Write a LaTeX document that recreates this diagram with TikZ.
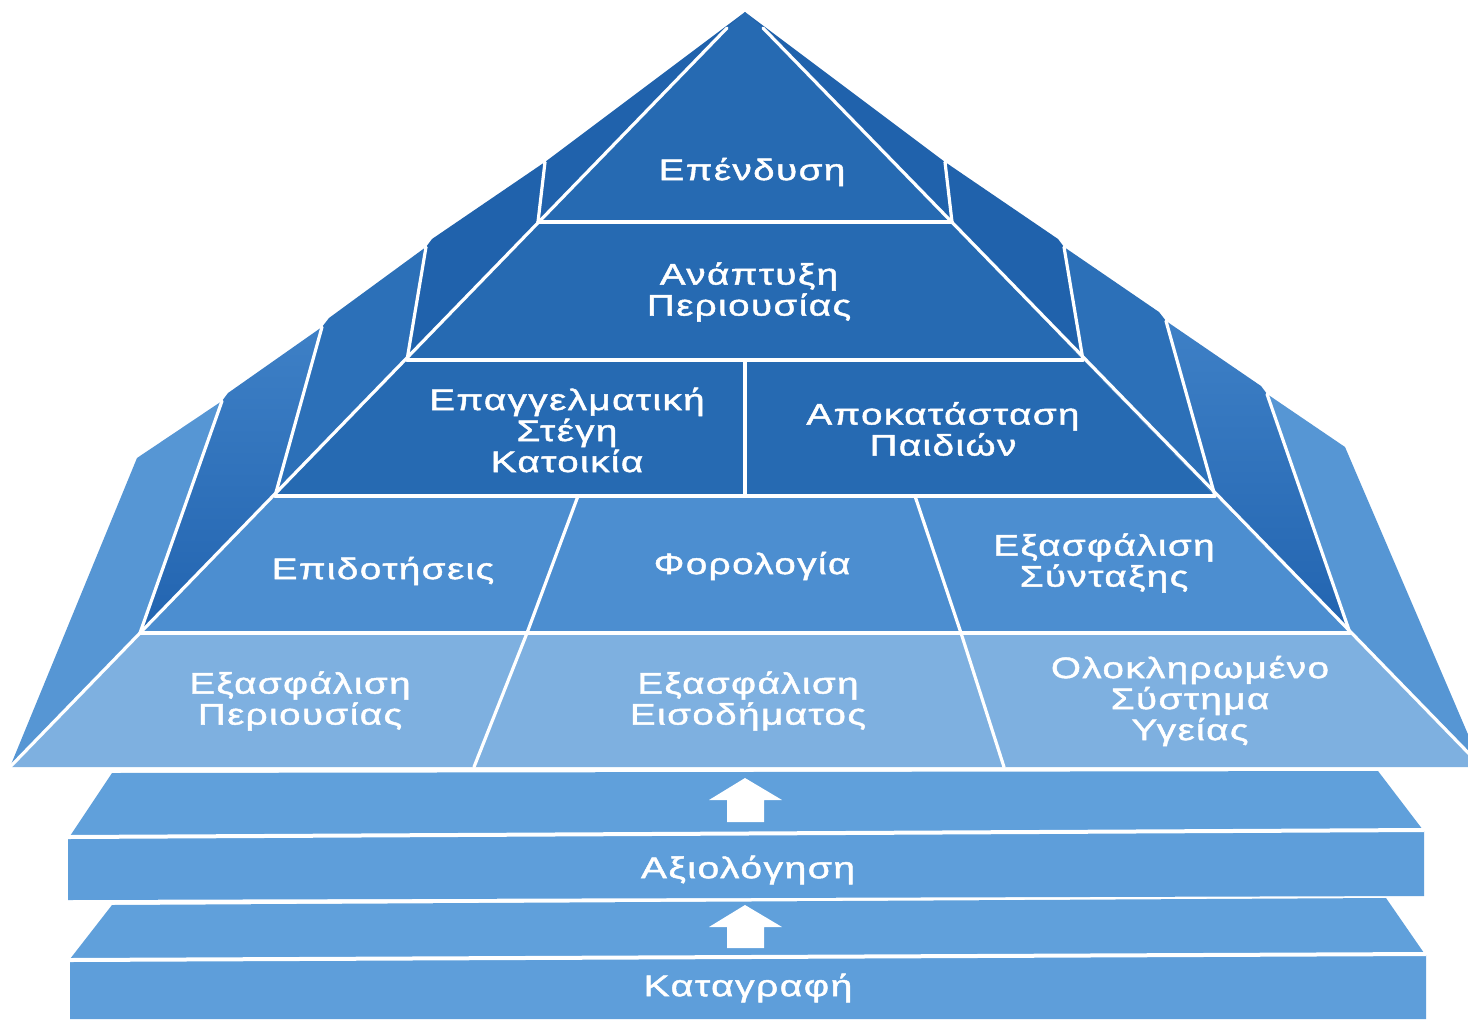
\documentclass[tikz,border=0pt]{standalone}
\usepackage{fontspec}
\newfontfamily\labfont{Liberation Sans}[FakeStretch=1.3,LetterSpace=5,FakeBold=1.6]
\usetikzlibrary{calc}
\definecolor{frontA}{RGB}{38,106,178}
\definecolor{sideA}{RGB}{32,98,172}
\definecolor{sideB}{RGB}{44,112,184}
\definecolor{frontD}{RGB}{76,142,208}
\definecolor{sideDtop}{RGB}{62,128,198}
\definecolor{sideDbot}{RGB}{34,100,176}
\definecolor{frontE}{RGB}{126,176,224}
\definecolor{sideE}{RGB}{86,150,212}
\definecolor{slabtop}{RGB}{96,160,219}
\definecolor{slabfront}{RGB}{94,158,218}
\begin{document}
\begin{tikzpicture}[x=0.5pt,y=-0.5pt,
  wl/.style={white, line width=1.6pt, line join=round, line cap=round},
  sl/.style={white, line width=2pt},
  lab/.style={text=white, font=\labfont\fontsize{14.8}{15.5}\selectfont, align=center, inner sep=0pt},
  slablab/.style={text=white, font=\labfont\fontsize{15}{16}\selectfont, inner sep=0pt},
  uparrow/.style={fill=white, draw=none}]
\useasboundingbox (0,0) rectangle (1468,1019);
\clip (0,0) rectangle (1468,1019);
\fill[white] (0,0) rectangle (1468,1019);

% ---------- key points of the pyramid ----------
\coordinate (A) at (745,12);
\coordinate (F0l) at (727,28);  \coordinate (F0r) at (763,28);
\coordinate (P1l) at (538,222); \coordinate (P1r) at (952,222);
\coordinate (P2l) at (407,360); \coordinate (P2r) at (1083,360);
\coordinate (P3l) at (275,496); \coordinate (P3r) at (1215,496);
\coordinate (P4l) at (140,633); \coordinate (P4r) at (1350,633);
\coordinate (P5l) at (10,767);  \coordinate (P5r) at (1482,767);
\coordinate (Q1l) at (545,162); \coordinate (Q1r) at (945,162);
\coordinate (Q2l) at (426,247); \coordinate (Q2r) at (1064,247);
\coordinate (Q2la) at (432,239); \coordinate (Q2ra) at (1058,239);
\coordinate (Q3l) at (322,327); \coordinate (Q3r) at (1166,321);
\coordinate (Q3la) at (329,318); \coordinate (Q3ra) at (1159,312);
\coordinate (Q4l) at (222,401); \coordinate (Q4r) at (1267,394);
\coordinate (Q4la) at (228,393); \coordinate (Q4ra) at (1261,386);
\coordinate (Q5l) at (137,458); \coordinate (Q5r) at (1345,447);

% ---------- side faces ----------
\fill[sideA] (A) -- (P1l) -- (Q1l) -- cycle;
\fill[sideA] (A) -- (P1r) -- (Q1r) -- cycle;
\fill[sideA] (P1l) -- (P2l) -- (Q2l) -- (Q2la) -- (Q1l) -- cycle;
\fill[sideA] (P1r) -- (P2r) -- (Q2r) -- (Q2ra) -- (Q1r) -- cycle;
\fill[sideB] (P2l) -- (P3l) -- (Q3l) -- (Q3la) -- (Q2l) -- cycle;
\fill[sideB] (P2r) -- (P3r) -- (Q3r) -- (Q3ra) -- (Q2r) -- cycle;
\shade[top color=sideDtop, bottom color=sideDbot] (P3l) -- (P4l) -- (Q4l) -- (Q4la) -- (Q3l) -- cycle;
\shade[top color=sideDtop, bottom color=sideDbot] (P3r) -- (P4r) -- (Q4r) -- (Q4ra) -- (Q3r) -- cycle;
\fill[sideE] (P4l) -- (P5l) -- (Q5l) -- (Q4l) -- cycle;
\fill[sideE] (P4r) -- (P5r) -- (Q5r) -- (Q4r) -- cycle;

% ---------- front faces ----------
\fill[frontA] (A) -- (F0r) -- (P1r) -- (P1l) -- (F0l) -- cycle;
\fill[frontA] (P1l) -- (P1r) -- (P2r) -- (P2l) -- cycle;
\fill[frontA] (P2l) -- (P2r) -- (P3r) -- (P3l) -- cycle;
\fill[frontD] (P3l) -- (P3r) -- (P4r) -- (P4l) -- cycle;
\fill[frontE] (P4l) -- (P4r) -- (P5r) -- (P5l) -- cycle;

% ---------- white edges ----------
\draw[wl] (F0l) -- (P5l);
\draw[wl] (F0r) -- (P5r);
\draw[wl] (P1l) -- (P1r);
\draw[wl] (P2l) -- (P2r);
\draw[wl] (P3l) -- (P3r);
\draw[wl] (P4l) -- (P4r);
\draw[wl] (P1l) -- (Q1l);  \draw[wl] (P1r) -- (Q1r);
\draw[wl] (P2l) -- (Q2l);  \draw[wl] (P2r) -- (Q2r);
\draw[wl] (P3l) -- (Q3l);  \draw[wl] (P3r) -- (Q3r);
\draw[wl] (P4l) -- (Q4l);  \draw[wl] (P4r) -- (Q4r);
% cell dividers
\coordinate (D3t) at (745,360); \coordinate (D3b) at (745,496);
\coordinate (D4at) at (578,496); \coordinate (D4ab) at (527,633);
\coordinate (D4bt) at (915,496); \coordinate (D4bb) at (961,633);
\coordinate (D5ab) at (474,767); \coordinate (D5bb) at (1004,767);
\draw[wl] (D3t) -- (D3b);
\draw[wl] (D4at) -- (D4ab);
\draw[wl] (D4bt) -- (D4bb);
\draw[wl] (D4ab) -- (D5ab);
\draw[wl] (D4bb) -- (D5bb);

% ---------- base slabs ----------
\fill[slabtop] (112,773) -- (1378,771) -- (1423,830) -- (70,836) -- cycle;
\fill[slabfront] (68,838) -- (1424,831) -- (1424,896) -- (68,900) -- cycle;
\draw[sl] (68,837) -- (1424,830);
\fill[slabtop] (112,905) -- (1386,898) -- (1424,953) -- (70,959) -- cycle;
\fill[slabfront] (70,961) -- (1426,955) -- (1426,1019) -- (70,1019) -- cycle;
\draw[sl] (70,960) -- (1426,954);

% ---------- arrows ----------
\fill[uparrow] (745,778) -- (782,800) -- (764,800) -- (764,822) -- (727,822) -- (727,800) -- (709,800) -- cycle;
\fill[uparrow] (745,905) -- (782,927) -- (764,927) -- (764,948) -- (727,948) -- (727,927) -- (709,927) -- cycle;

% ---------- labels ----------
\node[lab] (t1) at (752,172) {Επένδυση};
\node[lab] (t2) at (749,292) {Ανάπτυξη\\Περιουσίας};
\node[lab] (t3a) at (567,430) {Επαγγελματική\\Στέγη\\Κατοικία};
\node[lab] (t3b) at (943,429) {Αποκατάσταση\\Παιδιών};
\node[lab] (t4a) at (383,571) {Επιδοτήσεις};
\node[lab] (t4b) at (752,566) {Φορολογία};
\node[lab] (t4c) at (1104,563) {Εξασφάλιση\\Σύνταξης};
\node[lab] (t5a) at (300,701) {Εξασφάλιση\\Περιουσίας};
\node[lab] (t5b) at (748,701) {Εξασφάλιση\\Εισοδήματος};
\node[lab] (t5c) at (1190,701) {Ολοκληρωμένο\\Σύστημα\\Υγείας};
\node[slablab] (s1) at (748,870) {Αξιολόγηση};
\node[slablab] (s2) at (748,988) {Καταγραφή};
\end{tikzpicture}
\end{document}
